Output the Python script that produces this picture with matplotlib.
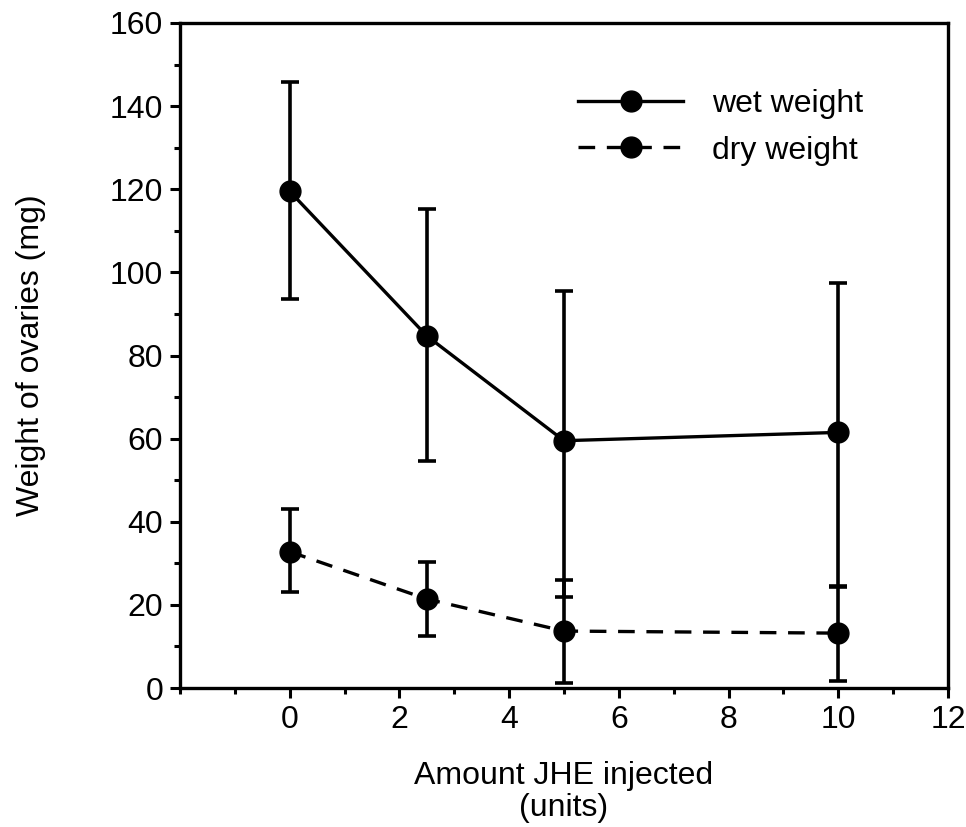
import numpy as np
import matplotlib.pyplot as plt
from matplotlib.ticker import MultipleLocator

plt.rcParams['font.family'] = ['Liberation Sans', 'DejaVu Sans']

# JHE dose (units)
dose = [0, 2.5, 5, 10]

# wet weight of ovaries (mg) with lower / upper error bar ends
wet = [119.5, 84.7, 59.5, 61.5]
wet_lo = [93.5, 54.7, 22.0, 24.3]
wet_hi = [145.9, 115.2, 95.5, 97.5]

# dry weight of ovaries (mg)
dry = [32.8, 21.4, 13.7, 13.2]
dry_lo = [23.2, 12.4, 1.3, 1.8]
dry_hi = [43.1, 30.3, 26.0, 24.6]

FS = 23


def yerr(mid, lo, hi):
    mid = np.array(mid)
    return [mid - np.array(lo), np.array(hi) - mid]


fig = plt.figure(figsize=(9.66, 8.27), dpi=100)
ax = fig.add_axes([180 / 966, 1 - 688 / 827, 768 / 966, 665 / 827])

ax.errorbar(dose, wet, yerr=yerr(wet, wet_lo, wet_hi), color='black', lw=2.4,
            marker='o', ms=15, elinewidth=2.6, capsize=6.5, capthick=2.6,
            label='wet weight')
ax.errorbar(dose, dry, yerr=yerr(dry, dry_lo, dry_hi), color='black', lw=2.4,
            ls=(0, (5, 3.5)), marker='o', ms=15, elinewidth=2.6, capsize=6.5,
            capthick=2.6, label='dry weight')

ax.set_xlim(-2, 12)
ax.set_ylim(0, 160)
ax.xaxis.set_major_locator(MultipleLocator(2))
ax.xaxis.set_minor_locator(MultipleLocator(1))
ax.yaxis.set_major_locator(MultipleLocator(20))
ax.yaxis.set_minor_locator(MultipleLocator(10))
ax.set_xticks([0, 2, 4, 6, 8, 10, 12])
ax.tick_params(which='major', direction='out', length=7, width=2.2, labelsize=FS, pad=5)
ax.tick_params(which='minor', direction='out', length=4.5, width=2.2)
for s in ax.spines.values():
    s.set_linewidth(2.4)

ax.set_xlabel('Amount JHE injected\n(units)', fontsize=FS, labelpad=19, linespacing=1.1)
ax.set_ylabel('Weight of ovaries (mg)', fontsize=FS, labelpad=46)

handles, labels = ax.get_legend_handles_labels()
handles = [h[0] for h in handles]
ax.legend(handles, labels, loc='upper left', bbox_to_anchor=(578 / 966, 1 - 89 / 827),
          bbox_transform=fig.transFigure, frameon=False, fontsize=FS,
          handlelength=3.3, handletextpad=0.9, labelspacing=0.52,
          borderpad=0, borderaxespad=0)

fig.savefig('out.png', dpi=100)
